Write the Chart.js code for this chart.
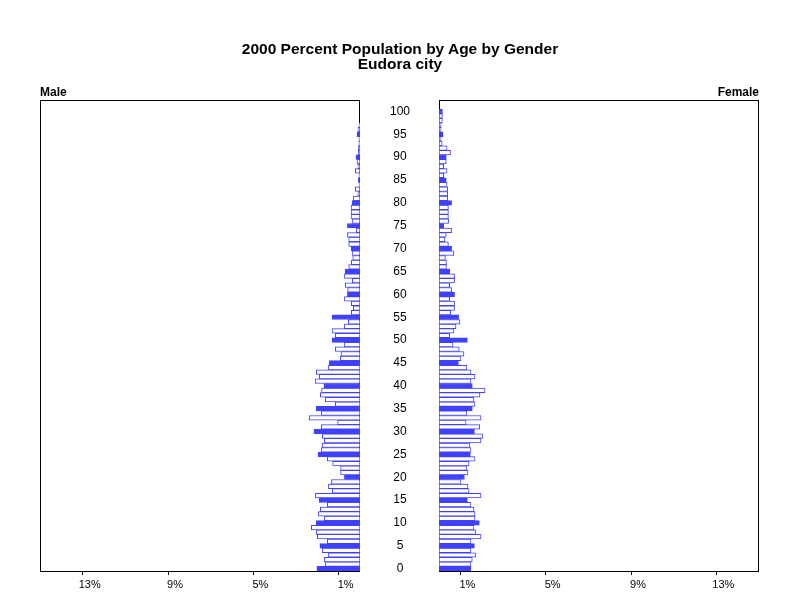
<!DOCTYPE html>
<html>
<head>
<meta charset="utf-8">
<script src="https://cdn.jsdelivr.net/npm/chart.js@4/dist/chart.umd.min.js"></script>
<style>
  body { margin: 0; background: #fff; }
  #wrap { position: relative; width: 800px; height: 600px; font-family: "Liberation Sans", Arial, sans-serif; }
  canvas { position: absolute; left: 0; top: 0; }
  .txt { position: absolute; color: #000; white-space: nowrap; }
</style>
</head>
<body>
<div id="wrap">
  <canvas id="maleChart" width="800" height="600"></canvas>
  <canvas id="femaleChart" width="800" height="600"></canvas>
  <div class="txt" style="left:0;width:800px;top:40px;text-align:center;font-size:15.5px;font-weight:bold;">2000 Percent Population by Age by Gender</div>
  <div class="txt" style="left:0;width:800px;top:55px;text-align:center;font-size:15.5px;font-weight:bold;">Eudora city</div>
  <div class="txt" style="left:40px;top:85px;font-size:12px;font-weight:bold;">Male</div>
  <div class="txt" style="right:41px;top:85px;font-size:12px;font-weight:bold;">Female</div>
</div>
<script>
// percent of population, index = age (0..100)
let malePct = [
  2.02, 1.63, 1.67, 1.48, 1.77, 1.88, 1.53, 2.00, 2.05, 2.28,
  2.06, 1.67, 1.95, 1.86, 1.53, 1.92, 2.09, 1.30, 1.48, 1.34,
  0.73, 0.91, 0.91, 1.28, 1.53, 1.97, 1.81, 1.77, 1.67, 1.77,
  2.16, 1.81, 1.05, 2.38, 1.81, 2.06, 1.16, 1.63, 1.86, 1.80,
  1.69, 2.09, 1.91, 2.05, 1.48, 1.45, 0.92, 0.89, 1.16, 0.73,
  1.31, 1.16, 1.31, 0.73, 0.55, 1.31, 0.41, 0.31, 0.41, 0.73,
  0.59, 0.58, 0.69, 0.36, 0.73, 0.69, 0.53, 0.41, 0.34, 0.37,
  0.41, 0.53, 0.53, 0.59, 0.17, 0.59, 0.37, 0.42, 0.42, 0.42,
  0.37, 0.31, 0.10, 0.22, 0.05, 0.09, 0.05, 0.22, 0.10, 0.14,
  0.19, 0.08, 0.08, 0.05, 0.05, 0.14, 0.10, 0.05, 0, 0,
  0
];
let femalePct = [
  1.50, 1.50, 1.56, 1.73, 1.50, 1.66, 1.50, 1.97, 1.73, 1.64,
  1.89, 1.69, 1.69, 1.64, 1.50, 1.33, 1.97, 1.41, 1.36, 1.03,
  1.19, 1.36, 1.31, 1.41, 1.69, 1.47, 1.50, 1.45, 1.97, 2.06,
  1.66, 1.91, 1.27, 1.97, 1.31, 1.56, 1.69, 1.64, 1.92, 2.16,
  1.56, 1.50, 1.69, 1.50, 1.31, 0.91, 1.03, 1.17, 0.95, 0.66,
  1.33, 0.50, 0.70, 0.80, 0.98, 0.92, 0.55, 0.73, 0.73, 0.50,
  0.73, 0.60, 0.50, 0.73, 0.73, 0.50, 0.35, 0.35, 0.30, 0.70,
  0.59, 0.44, 0.28, 0.34, 0.59, 0.22, 0.45, 0.44, 0.44, 0.44,
  0.59, 0.41, 0.41, 0.41, 0.38, 0.34, 0.22, 0.38, 0.22, 0.34,
  0.34, 0.54, 0.38, 0.15, 0.10, 0.19, 0.10, 0.10, 0.16, 0.16,
  0.16
];
let ages = [];
for (let a = 0; a <= 102; a++) ages.push(String(a));
let pctTicks = [1, 5, 9, 13];

let blue = 'rgb(64,64,255)';
let fillColors = ages.map((a, i) => i % 5 === 0 ? blue : '#ffffff');

// black frame round each panel
let framePlugin = {
  id: 'frame',
  beforeDatasetsDraw(chart) {
    let a = chart.chartArea, c = chart.ctx;
    c.save();
    c.strokeStyle = '#000';
    c.lineWidth = 1;
    c.strokeRect(Math.round(a.left) + 0.5, Math.round(a.top) + 0.5,
                 Math.round(a.right - a.left) - 1, Math.round(a.bottom - a.top));
    c.restore();
  }
};

function xAxis(reverse) {
  return {
    type: 'linear',
    min: 0,
    max: 15,
    reverse: reverse,
    afterBuildTicks: scale => { scale.ticks = pctTicks.map(v => ({ value: v })); },
    afterFit: scale => { scale.height = 25; },
    grid: { display: true, drawOnChartArea: false, tickLength: 4, color: '#000' },
    border: { display: false },
    ticks: {
      color: '#000',
      labelOffset: 7,
      padding: 3,
      font: { family: 'Liberation Sans', size: 11 },
      callback: v => v + '%'
    }
  };
}

function barData(values) {
  return {
    labels: ages,
    datasets: [{
      data: values,
      backgroundColor: fillColors,
      borderColor: blue,
      borderWidth: 1,
      borderSkipped: false,
      categoryPercentage: 1.0,
      barPercentage: 1.0
    }]
  };
}

let maleChart = new Chart(document.getElementById('maleChart'), {
  type: 'bar',
  data: barData(malePct),
  plugins: [framePlugin],
  options: {
    indexAxis: 'y',
    responsive: false,
    animation: false,
    layout: { padding: { left: 40, right: 361, top: 100, bottom: 4 } },
    plugins: { legend: { display: false }, tooltip: { enabled: false } },
    scales: {
      x: xAxis(true),
      y: {
        type: 'category',
        position: 'right',
        reverse: true,
        afterFit: scale => { scale.width = 79; },
        // invisible tick marks push the age labels into the gap between panels
        grid: { display: true, drawOnChartArea: false, drawTicks: true, tickLength: 30, color: 'rgba(0,0,0,0)' },
        border: { display: false },
        ticks: {
          autoSkip: false,
          color: '#000',
          padding: 0,
          crossAlign: 'center',
          font: { family: 'Liberation Sans', size: 12 },
          callback: function(value, index) {
            return (index % 5 === 0 && index <= 100) ? this.getLabelForValue(value) : '';
          }
        }
      }
    }
  }
});

let femaleChart = new Chart(document.getElementById('femaleChart'), {
  type: 'bar',
  data: barData(femalePct),
  plugins: [framePlugin],
  options: {
    indexAxis: 'y',
    responsive: false,
    animation: false,
    layout: { padding: { left: 439, right: 41, top: 100, bottom: 4 } },
    plugins: { legend: { display: false }, tooltip: { enabled: false } },
    scales: {
      x: xAxis(false),
      y: {
        type: 'category',
        reverse: true,
        display: false
      }
    }
  }
});
</script>
</body>
</html>
